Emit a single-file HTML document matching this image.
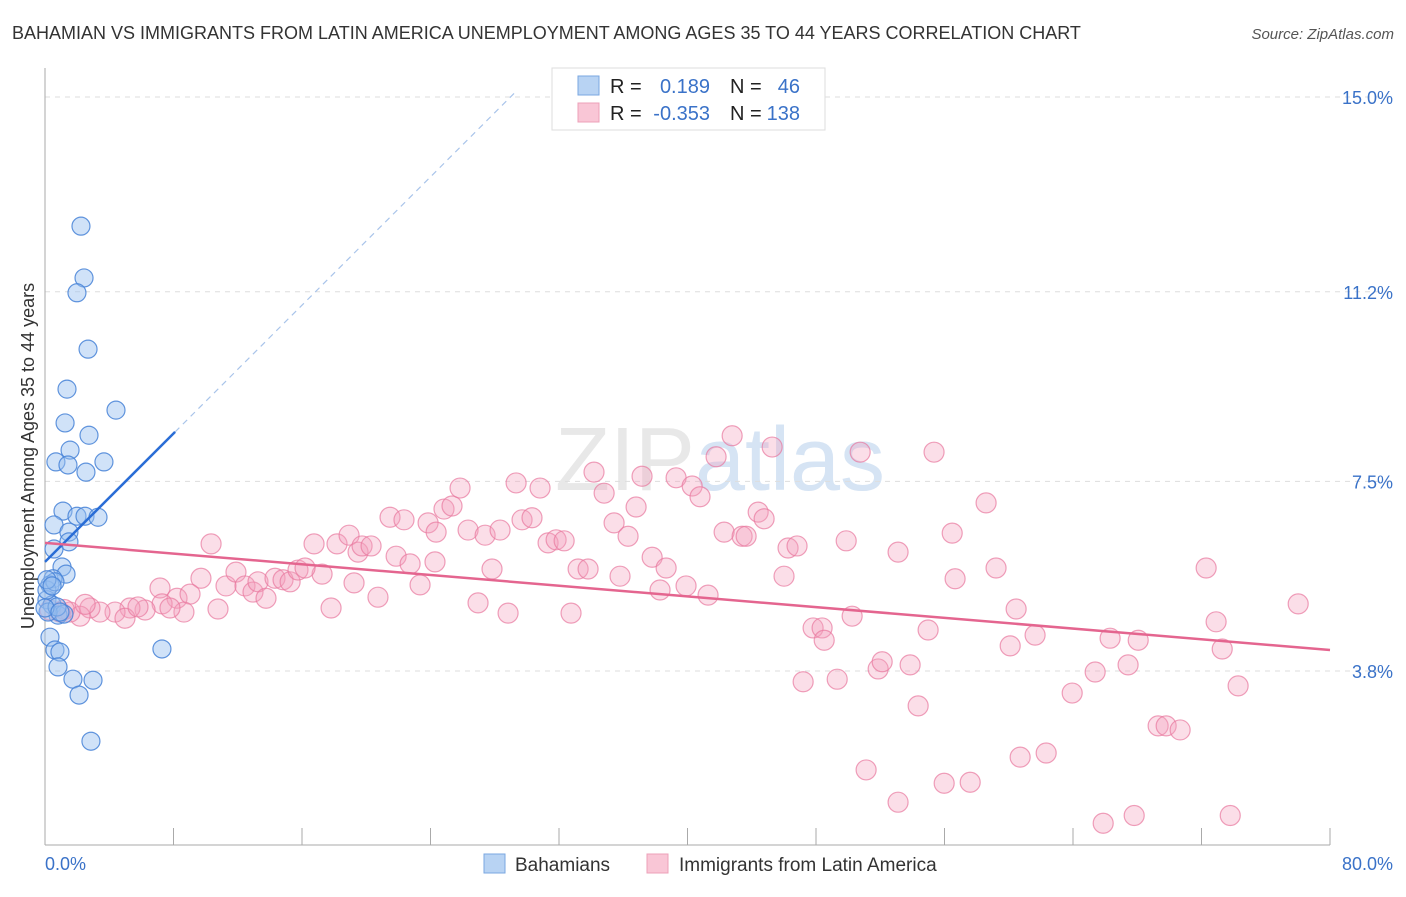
<!DOCTYPE html>
<html><head><meta charset="utf-8"><style>
body{margin:0;background:#fff;font-family:"Liberation Sans",sans-serif}
svg text{font-family:"Liberation Sans",sans-serif}
</style></head><body>
<svg id="chart" width="1406" height="892" xmlns="http://www.w3.org/2000/svg">
<text x="12" y="39" font-size="18" fill="#333">BAHAMIAN VS IMMIGRANTS FROM LATIN AMERICA UNEMPLOYMENT AMONG AGES 35 TO 44 YEARS CORRELATION CHART</text>
<text x="1394" y="39" font-size="15" fill="#555" text-anchor="end" font-style="italic">Source: ZipAtlas.com</text>
<text x="720" y="490" font-size="90" fill="#e8e8e8" text-anchor="middle" font-family="Liberation Serif">ZIP<tspan fill="#d6e4f4" font-family="Liberation Sans">atlas</tspan></text>
<g id="grid"></g>
<g id="axes"></g>
<g id="pink"></g>
<g id="blue"></g>
<g id="trend"></g>
<text transform="translate(34,456) rotate(-90)" font-size="18" fill="#333" text-anchor="middle">Unemployment Among Ages 35 to 44 years</text>
<g>
<rect x="552" y="68" width="273" height="62" fill="#fff" stroke="#ddd"/>
<rect x="578" y="76" width="21" height="19" fill="#b8d3f3" stroke="#7aa7e0"/>
<rect x="578" y="103" width="21" height="19" fill="#f9c6d6" stroke="#eda0b8"/>
<text x="610" y="93" font-size="20" fill="#222">R =</text><text x="710" y="93" font-size="20" fill="#3a72c8" text-anchor="end">0.189</text>
<text x="730" y="93" font-size="20" fill="#222">N =</text><text x="800" y="93" font-size="20" fill="#3a72c8" text-anchor="end">46</text>
<text x="610" y="120" font-size="20" fill="#222">R =</text><text x="710" y="120" font-size="20" fill="#3a72c8" text-anchor="end">-0.353</text>
<text x="730" y="120" font-size="20" fill="#222">N =</text><text x="800" y="120" font-size="20" fill="#3a72c8" text-anchor="end">138</text>
</g>
<g>
<rect x="484" y="854" width="21" height="19" fill="#b8d3f3" stroke="#7aa7e0"/>
<text x="515" y="871" font-size="19" fill="#333">Bahamians</text>
<rect x="647" y="854" width="21" height="19" fill="#f9c6d6" stroke="#eda0b8"/>
<text x="679" y="871" font-size="19" fill="#333">Immigrants from Latin America</text>
</g>
</svg>
<script>
const yTicks=[15.0,11.2,7.5,3.8];
const yTickLabels=["15.0%","11.2%","7.5%","3.8%"];
const xTicks=[0,8,16,24,32,40,48,56,64,72,80];
const xEndLabels=["0.0%","80.0%"];
const blueX=[2.24,2.43,1.99,2.68,1.37,4.42,1.25,2.74,1.56,0.68,1.43,3.67,2.55,1.12,1.99,2.49,3.30,0.56,1.49,1.49,0.56,1.06,1.31,0.50,0.31,0.12,0.44,0.81,1.18,0.31,0.62,0.93,0.81,1.74,2.99,2.12,2.86,7.28,0.12,0.19,0.62,0.12,0.75,0,0.44,0.93];
const blueY=[12.48,11.47,11.18,10.08,9.30,8.89,8.64,8.40,8.11,7.88,7.82,7.88,7.68,6.92,6.82,6.82,6.80,6.65,6.51,6.32,6.18,5.83,5.69,5.60,5.48,5.19,5.09,4.89,4.91,4.46,4.21,4.17,3.88,3.64,3.62,3.33,2.43,4.23,5.38,4.95,5.54,5.58,5.05,5.03,5.46,4.95];
const pinkX=[10.34,7.16,9.71,8.22,9.03,7.29,6.23,5.29,4.36,4.98,5.79,3.42,2.80,2.18,1.56,0.93,0.31,10.77,8.65,7.78,11.27,11.89,12.45,12.95,13.26,13.76,14.32,14.82,15.26,15.75,17.25,16.19,16.75,17.81,18.18,18.93,19.49,19.74,20.30,19.24,20.73,21.48,22.35,21.86,22.73,23.35,23.85,24.35,24.28,24.84,25.34,25.84,26.34,26.96,27.83,27.40,28.33,28.83,29.33,29.70,30.32,30.82,31.32,31.82,32.32,32.75,33.19,33.81,34.18,34.81,35.43,35.80,36.30,36.80,37.17,37.80,38.29,38.67,39.29,39.91,40.29,40.78,41.28,41.78,42.28,42.78,43.40,43.65,44.40,44.77,45.27,46.01,46.26,46.82,47.82,47.20,48.38,48.51,49.32,49.88,50.25,50.75,51.12,51.87,52.12,53.11,53.11,53.86,54.36,54.98,55.35,55.98,56.48,56.66,57.60,58.59,59.21,60.09,60.46,60.71,61.64,62.33,63.95,65.38,65.88,66.31,67.43,67.81,68.06,69.30,69.80,70.67,72.29,72.91,73.29,73.79,74.28,78.02,1.2,2.5];
const pinkY=[6.28,5.42,5.61,5.22,5.30,5.11,4.99,5.03,4.95,4.83,5.05,4.95,5.03,4.87,4.95,4.95,4.99,5.01,4.95,5.03,5.46,5.73,5.46,5.34,5.54,5.22,5.61,5.58,5.54,5.77,5.69,5.81,6.28,5.03,6.28,6.45,6.12,6.24,6.24,5.52,5.24,6.80,6.75,6.04,5.89,5.48,6.69,6.51,5.93,6.96,7.02,7.37,6.55,5.13,5.79,6.45,6.55,4.93,7.47,6.75,6.79,7.37,6.30,6.36,6.34,4.93,5.79,5.79,7.68,7.27,6.69,5.65,6.43,7.00,7.60,6.02,5.38,5.81,7.57,5.46,7.41,7.20,5.28,7.98,6.51,8.39,6.43,6.43,6.90,6.77,8.17,5.65,6.20,6.24,4.64,3.59,4.64,4.40,3.64,6.34,4.87,8.07,1.87,3.84,3.98,1.24,6.12,3.92,3.12,4.60,8.07,1.61,6.49,5.60,1.63,7.08,5.81,4.29,5.01,2.12,4.50,2.20,3.37,3.78,0.83,4.44,3.92,0.98,4.40,2.73,2.73,2.65,5.81,4.76,4.23,0.98,3.51,5.11,5.0,5.1];
const blueTrend=[5.93,0.313];
const pinkTrend=[6.30,4.21];
const X0=45,X1=1330,YTOP=97,PXPERY=51.25;
const sx=v=>X0+v*(X1-X0)/80;
const sy=v=>YTOP+(15-v)*PXPERY;
const NS="http://www.w3.org/2000/svg";
function mk(tag,attrs,parent){const e=document.createElementNS(NS,tag);for(const k in attrs)e.setAttribute(k,attrs[k]);parent.appendChild(e);return e;}
const grid=document.getElementById('grid'),axes=document.getElementById('axes');
yTicks.forEach((t,i)=>{
 const l=mk('line',{x1:X0,x2:1394,y1:sy(t),y2:sy(t),stroke:'#ddd','stroke-dasharray':'5,5'},grid);
 
 
 const tx=mk('text',{x:1393,y:sy(t)+7,'font-size':18,fill:'#3a72c8','text-anchor':'end'},axes);
 tx.textContent=yTickLabels[i];
 
 
});
const ya=mk('line',{x1:X0,x2:X0,y1:68,y2:845,stroke:'#aaa'},axes);


const xa=mk('line',{x1:X0,x2:X1,y1:845,y2:845,stroke:'#aaa'},axes);


xTicks.forEach(t=>{
 const l=mk('line',{x1:sx(t),x2:sx(t),y1:828,y2:845,stroke:'#aaa'},axes);
 
 
});
const xl0=mk('text',{x:45,y:870,'font-size':18,fill:'#3a72c8'},axes);xl0.textContent=xEndLabels[0];


const xl1=mk('text',{x:1393,y:870,'font-size':18,fill:'#3a72c8','text-anchor':'end'},axes);xl1.textContent=xEndLabels[1];


const pg=document.getElementById('pink');
pinkX.forEach((v,i)=>{
 const c=mk('circle',{cx:sx(v),cy:sy(pinkY[i]),r:10,fill:'rgba(244,160,188,0.35)',stroke:'rgba(232,120,158,0.7)','stroke-width':1.2},pg);
 
 
});
const bg=document.getElementById('blue');
blueX.forEach((v,i)=>{
 const c=mk('circle',{cx:sx(v),cy:sy(blueY[i]),r:9,fill:'rgba(150,190,240,0.45)',stroke:'rgba(70,130,215,0.85)','stroke-width':1.2},bg);
 
 
});
const tg=document.getElementById('trend');
const bf=x=>blueTrend[0]+blueTrend[1]*x;
const bt=mk('line',{x1:sx(0),y1:sy(bf(0)),x2:sx(8.1),y2:sy(bf(8.1)),stroke:'#2a6dd6','stroke-width':2.5},tg);


const bd=mk('line',{x1:sx(8.1),y1:sy(bf(8.1)),x2:sx(29.4),y2:sy(bf(29.4)),stroke:'#a9c4ea','stroke-width':1.2,'stroke-dasharray':'6,5'},tg);


const pt=mk('line',{x1:sx(0),y1:sy(pinkTrend[0]),x2:sx(80),y2:sy(pinkTrend[1]),stroke:'#e4658f','stroke-width':2.5},tg);


</script>
</body></html>
